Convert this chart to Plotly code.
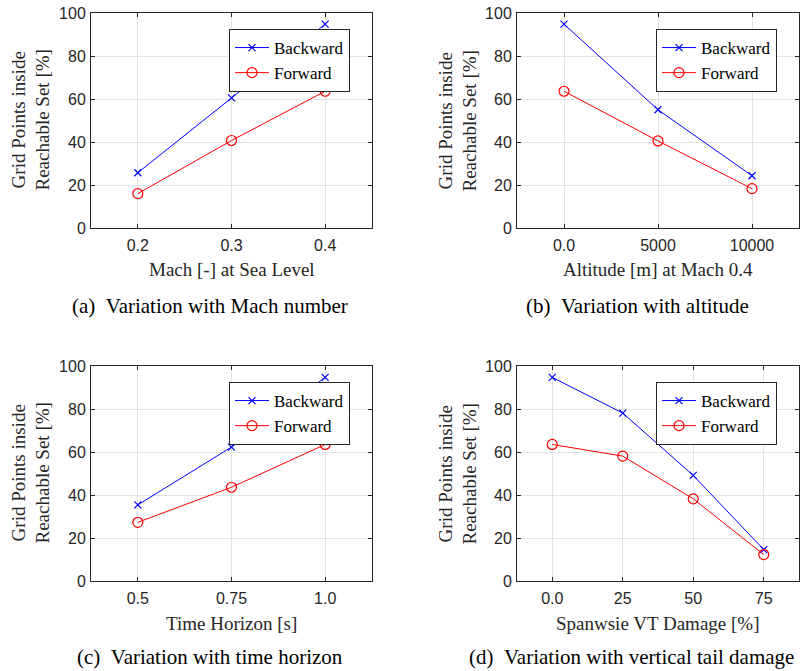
import plotly.graph_objects as go

# ---- data ----
mach = [0.2, 0.3, 0.4]
mach_back = [25.7, 60.5, 94.8]
mach_fwd = [16.0, 40.7, 63.6]

alt = [0, 5000, 10000]
alt_back = [94.8, 55.0, 24.3]
alt_fwd = [63.6, 40.5, 18.3]

horizon = [0.5, 0.75, 1.0]
hor_back = [35.4, 62.3, 94.7]
hor_fwd = [27.3, 43.6, 63.5]

damage = [0, 25, 50, 75]
dmg_back = [94.7, 78.1, 49.1, 14.6]
dmg_fwd = [63.5, 58.1, 38.2, 12.3]

panels = [
    dict(x=mach, b=mach_back, f=mach_fwd, rng=[0.15, 0.45], tv=[0.2, 0.3, 0.4], tt=["0.2", "0.3", "0.4"],
         xt="Mach [-] at Sea Level", cap="(a)&#160;&#160;Variation with Mach number"),
    dict(x=alt, b=alt_back, f=alt_fwd, rng=[-2500, 12500], tv=[0, 5000, 10000], tt=["0.0", "5000", "10000"],
         xt="Altitude [m] at Mach 0.4", cap="(b)&#160;&#160;Variation with altitude"),
    dict(x=horizon, b=hor_back, f=hor_fwd, rng=[0.375, 1.125], tv=[0.5, 0.75, 1.0], tt=["0.5", "0.75", "1.0"],
         xt="Time Horizon [s]", cap="(c)&#160;&#160;Variation with time horizon"),
    dict(x=damage, b=dmg_back, f=dmg_fwd, rng=[-12.5, 87.5], tv=[0, 25, 50, 75], tt=["0.0", "25", "50", "75"],
         xt="Spanwsie VT Damage [%]", cap="(d)&#160;&#160;Variation with vertical tail damage"),
]

W, H = 801, 671
# pixel layout
xdom_px = [(91, 372), (517, 799), (91, 372), (517, 799)]
ydom_px = [(13, 228), (13, 228), (366, 581), (366, 581)]
leg_px = [(229, 29), (656, 29), (229, 382), (656, 382)]
xtitle_y = [269, 269, 623, 623]
cap_xy = [(210, 306), (637, 306), (210, 657), (631, 657)]
ytitle_x = [30, 457, 30, 457]

SERIF = "Liberation Serif, Times New Roman, serif"
SANS = "Liberation Sans, Arial, sans-serif"
AX = "#262626"

fig = go.Figure()
layout = dict(width=W, height=H, margin=dict(l=0, r=0, t=0, b=0, pad=0, autoexpand=False),
              paper_bgcolor="white", plot_bgcolor="white", showlegend=True)
annotations = []

for i, p in enumerate(panels):
    n = i + 1
    xa = "x" if n == 1 else f"x{n}"
    ya = "y" if n == 1 else f"y{n}"
    lg = "legend" if n == 1 else f"legend{n}"
    fig.add_trace(go.Scatter(x=p["x"], y=p["b"], mode="lines+markers", name="Backward",
                             line=dict(color="#0000FF", width=1),
                             marker=dict(symbol="x-thin-open", size=7, color="#0000FF", line=dict(width=1.2, color="#0000FF")),
                             xaxis=xa, yaxis=ya, legend=lg))
    fig.add_trace(go.Scatter(x=p["x"], y=p["f"], mode="lines+markers", name="Forward",
                             line=dict(color="#FF0000", width=1),
                             marker=dict(symbol="circle-open", size=10, color="#FF0000", line=dict(width=1.2, color="#FF0000")),
                             xaxis=xa, yaxis=ya, legend=lg))
    x0, x1 = xdom_px[i]
    y0, y1 = ydom_px[i]
    common = dict(showline=True, mirror="ticks", linecolor=AX, linewidth=1, ticks="inside", ticklen=4,
                  tickcolor=AX, showgrid=True, gridcolor="#e3e3e3", gridwidth=1, zeroline=False,
                  automargin=False, tickfont=dict(family=SANS, size=16, color=AX))
    layout["xaxis" if n == 1 else f"xaxis{n}"] = dict(
        domain=[x0 / W, x1 / W], anchor=ya, range=p["rng"], tickvals=p["tv"], ticktext=p["tt"],
        ticklabelstandoff=3, **common)
    layout["yaxis" if n == 1 else f"yaxis{n}"] = dict(
        domain=[1 - y1 / H, 1 - y0 / H], anchor=xa, range=[0, 100], tickvals=[0, 20, 40, 60, 80, 100],
        ticklabelstandoff=1, **common)
    lx, ly = leg_px[i]
    layout[lg] = dict(x=lx / W, y=1 - ly / H, xanchor="left", yanchor="top", bgcolor="white",
                      bordercolor=AX, borderwidth=1, font=dict(family=SERIF, size=17, color="black"),
                      tracegroupgap=0, itemwidth=34)
    annotations.append(dict(text=p["xt"], x=(x0 + x1) / 2 / W, y=1 - xtitle_y[i] / H, xref="paper", yref="paper",
                            showarrow=False, xanchor="center", yanchor="middle",
                            font=dict(family=SERIF, size=19, color=AX)))
    cx, cy = cap_xy[i]
    annotations.append(dict(text=p["cap"], x=cx / W, y=1 - cy / H, xref="paper", yref="paper",
                            showarrow=False, xanchor="center", yanchor="middle",
                            font=dict(family=SERIF, size=21, color="black")))
    annotations.append(dict(text="Grid Points inside<br>Reachable Set [%]", x=ytitle_x[i] / W,
                            y=1 - (y0 + y1) / 2 / H, xref="paper", yref="paper", textangle=-90,
                            showarrow=False, xanchor="center", yanchor="middle",
                            font=dict(family=SERIF, size=19, color=AX)))

layout["annotations"] = annotations
fig.update_layout(**layout)
fig.write_html("out.html", config={"displayModeBar": False},
               post_script="document.body.style.margin='0';document.body.style.overflow='hidden';")
